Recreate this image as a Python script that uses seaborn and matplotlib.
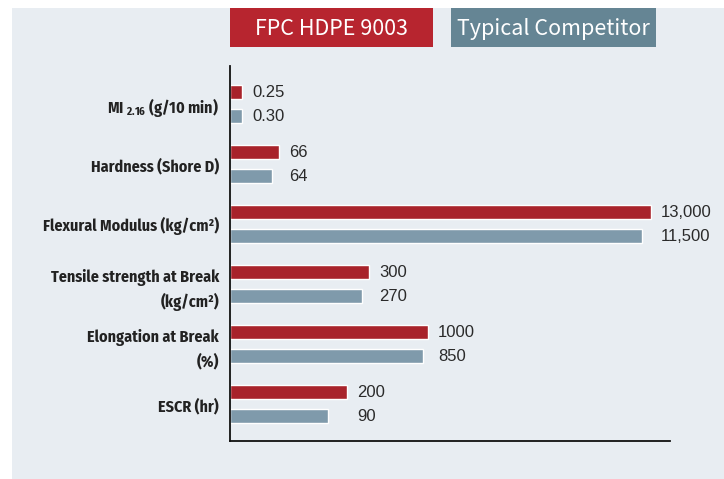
import matplotlib
matplotlib.use("Agg")
import matplotlib.pyplot as plt
import matplotlib.patches as mpatches
import seaborn as sns
import pandas as pd

# chart data (bar lengths are the drawn lengths, labels are the real values)
categories = [
    r"MI $_{2.16}$ (g/10 min)",
    "Hardness (Shore D)",
    "Flexural Modulus (kg/cm²)",
    "Tensile strength at Break\n(kg/cm²)",
    "Elongation at Break\n(%)",
    "ESCR (hr)",
]
series = ["FPC HDPE 9003", "Typical Competitor"]
fpc_length = [12, 49, 421, 139, 198, 117]
comp_length = [12, 42, 412, 132, 193, 98]
fpc_labels = ["0.25", "66", "13,000", "300", "1000", "200"]
comp_labels = ["0.30", "64", "11,500", "270", "850", "90"]

bg = "#E8EDF2"
red_bar = "#A8232B"
blue_bar = "#7F9AAB"
red_box = "#B7252F"
blue_box = "#658594"
narrow = ["Fira Sans Condensed", "DejaVu Sans"]

df = pd.DataFrame({
    "category": categories * 2,
    "series": [series[0]] * 6 + [series[1]] * 6,
    "length": fpc_length + comp_length,
})

sns.set_theme(style="white")
plt.rcParams["font.family"] = ["Liberation Sans", "DejaVu Sans"]
plt.rcParams["mathtext.fontset"] = "custom"
plt.rcParams["mathtext.rm"] = "Fira Sans Condensed:bold"
plt.rcParams["mathtext.it"] = "Fira Sans Condensed:bold"
plt.rcParams["mathtext.bf"] = "Fira Sans Condensed:bold"

fig = plt.figure(figsize=(7.24, 4.79), dpi=100)
fig.patch.set_facecolor("white")
# grey panel behind everything
fig.patches.append(mpatches.Rectangle((12 / 724, 0), 1, 1 - 8 / 479,
                                      transform=fig.transFigure,
                                      facecolor=bg, edgecolor="none", zorder=-10))

ax = fig.add_axes([230 / 724, 1 - 441 / 479, 440 / 724, 375 / 479])
ax.set_facecolor(bg)

sns.barplot(data=df, y="category", x="length", hue="series", orient="h",
            palette=[red_bar, blue_bar], width=0.8, gap=0.42,
            saturation=1, legend=False, ax=ax)

ax.set_xlim(0, 440)
ax.set_ylim(5.61, -0.64)
ax.set_xlabel("")
ax.set_ylabel("")
ax.set_xticks([])
ax.tick_params(axis="y", length=0, pad=8)
ax.set_yticks(range(len(categories)))
ax.set_yticklabels(categories, family=narrow, fontweight="bold", fontsize=11.5,
                   color="#222222", linespacing=1.5)
for s in ["top", "right"]:
    ax.spines[s].set_visible(False)
for s in ["left", "bottom"]:
    ax.spines[s].set_color("#111111")
    ax.spines[s].set_linewidth(1.3)

# value labels, aligned at the longer bar of each pair
for i in range(len(categories)):
    x = max(fpc_length[i], comp_length[i]) + 10
    ax.text(x, i - 0.2, fpc_labels[i], va="center", ha="left",
            fontsize=12, color="#2a2a2a")
    ax.text(x, i + 0.2, comp_labels[i], va="center", ha="left",
            fontsize=12, color="#2a2a2a")

# legend boxes at top
boxes = [(230, 433, red_box, series[0]), (451, 656, blue_box, series[1])]
for x0, x1, col, name in boxes:
    fig.text((x0 + x1) / 2 / 724, 1 - 29 / 479, name, ha="center", va="center",
             color="white", fontsize=15.5, family=["Noto Sans CJK JP", "DejaVu Sans"])
    fig.patches.append(mpatches.Rectangle((x0 / 724, 1 - 47 / 479),
                                          (x1 - x0) / 724, 39 / 479,
                                          transform=fig.transFigure,
                                          facecolor=col, edgecolor="none"))

fig.savefig("out.png", dpi=100, facecolor="white")
